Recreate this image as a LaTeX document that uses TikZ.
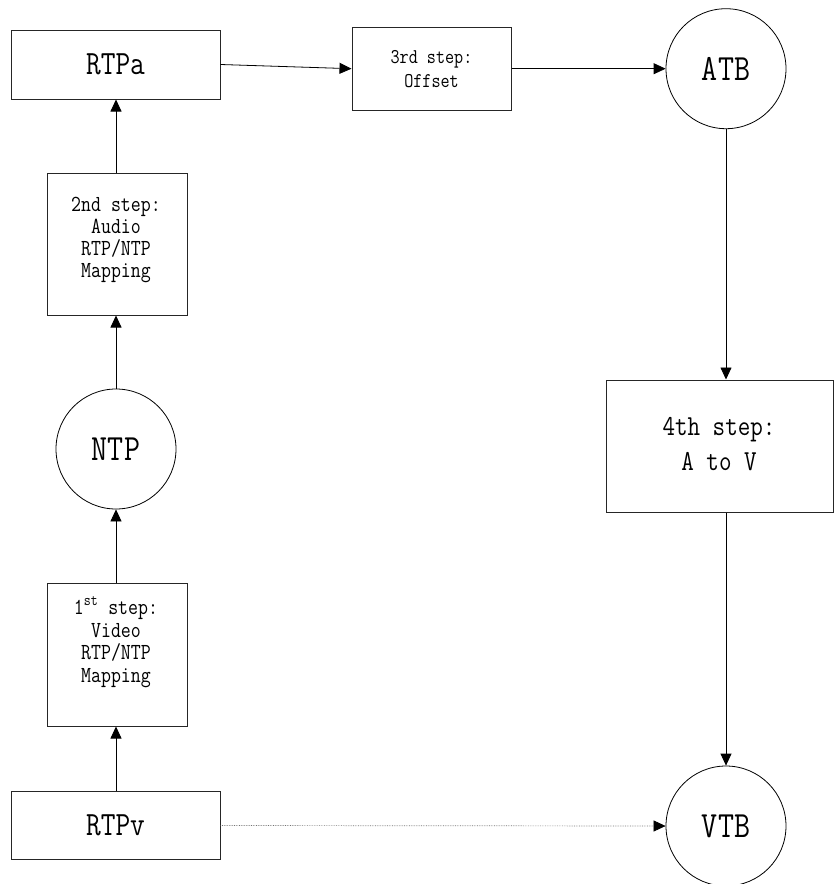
\documentclass[tikz,border=0pt]{standalone}
\usepackage{fontspec}
\setmainfont{Latin Modern Mono}[FakeStretch=0.84]
\usetikzlibrary{arrows.meta}

\begin{document}
\begin{tikzpicture}[x=1pt,y=-1pt,
  box/.style={draw=black!85, line width=1pt, inner sep=0pt},
  ring/.style={draw=black, line width=0.8pt, circle, minimum size=120pt,
    inner sep=0pt, font=\fontsize{37}{40}\selectfont},
  tag/.style={inner sep=0pt, font=\fontsize{34}{38}\selectfont},
  lbl/.style={align=center, inner sep=0pt},
  flow/.style={-{Triangle[length=12pt,width=11pt]}, line width=0.8pt},
  weak/.style={-{Triangle[length=12pt,width=11pt,color=black]}, line width=0.7pt,
    draw=black!55, densely dotted}
]
\useasboundingbox (0,0) rectangle (834,884);
\clip (0,0) rectangle (834,884);

% left column: video path up to audio RTP
\node[box, tag, minimum width=209pt, minimum height=69pt] (rtpa) at (115.5,64.5) {RTPa};
\node[box, minimum width=140pt, minimum height=142pt] (s2) at (117,244) {};
\node[lbl, font=\fontsize{23}{22}\selectfont] (s2t) at (116,240)
  {2nd step:\\Audio\\RTP/NTP\\Mapping};
\node[ring] (ntp) at (116,449) {NTP};
\node[box, minimum width=140pt, minimum height=143pt] (s1) at (117,654.5) {};
\node[lbl, font=\fontsize{23}{22.5}\selectfont] (s1t) at (116,642)
  {1\textsuperscript{st} step:\\Video\\RTP/NTP\\Mapping};
\node[box, tag, minimum width=209pt, minimum height=68pt] (rtpv) at (115.5,825.5) {RTPv};

% top row and right column
\node[box, minimum width=159pt, minimum height=83pt] (s3) at (431.5,68.7) {};
\node[lbl, font=\fontsize{21}{24}\selectfont] (s3t) at (431.5,69) {3rd step:\\Offset};
\node[ring] (atb) at (726,68.7) {ATB};
\node[box, minimum width=227.5pt, minimum height=132pt] (s4) at (719.75,446) {};
\node[lbl, font=\fontsize{29}{35}\selectfont] (s4t) at (719,444) {4th step:\\A to V};
\node[ring] (vtb) at (726,826) {VTB};

% connectors
\draw[flow] (rtpv.north -| ntp) -- (s1.south -| ntp);
\draw[flow] (s1.north -| ntp) -- (ntp.south);
\draw[flow] (ntp.north) -- (s2.south -| ntp);
\draw[flow] (s2.north -| ntp) -- (rtpa.south -| ntp);
\draw[flow] (rtpa.east) -- (s3.west);
\draw[flow] (s3.east) -- (atb.west);
\draw[flow] (atb.south) -- (atb.south |- s4.north);
\draw[flow] (atb.south |- s4.south) -- (vtb.north);
\draw[weak] (rtpv.east) -- (vtb.west);
\end{tikzpicture}
\end{document}
